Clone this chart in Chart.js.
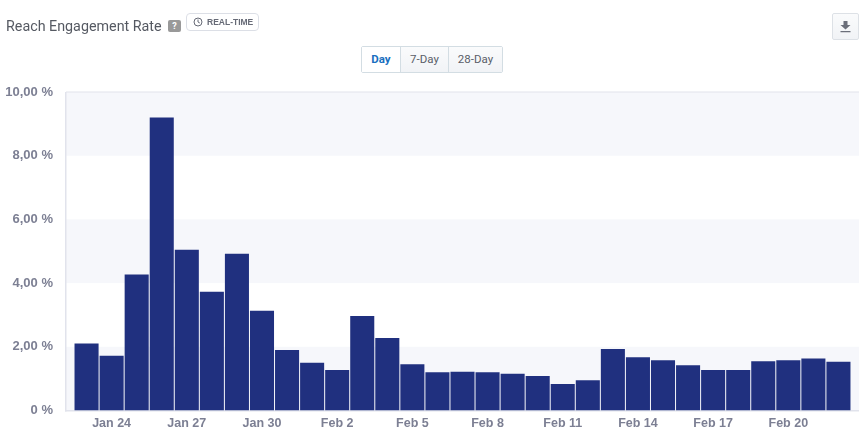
<!DOCTYPE html>
<html lang="en">
<head>
  <meta charset="UTF-8">
  <title>Reach Engagement Rate</title>
  <script src="https://cdn.jsdelivr.net/npm/chart.js"></script>
  <style>
    body { margin: 0; background: #fff; font-family: Roboto, Arial, sans-serif; }
    #wrap { position: relative; width: 864px; height: 433px; overflow: hidden; }
    canvas { position: absolute; left: 0; top: 0; }
    .title { position: absolute; left: 6px; top: 18px; font-size: 14.3px; color: #555962; }
    .help { position: absolute; left: 168px; top: 20px; width: 13px; height: 12px; background: #999; border-radius: 2px; color: #fff; font-size: 9px; line-height: 12px; text-align: center; font-weight: bold; }
    .realtime { position: absolute; left: 186px; top: 13px; width: 71px; height: 16px; border: 1px solid #dcdfe6; border-radius: 4px; }
    .realtime svg { position: absolute; left: 6px; top: 3px; }
    .realtime span { position: absolute; left: 20px; top: 2px; font: bold 8.5px/12px "Liberation Sans", Arial, sans-serif; color: #666a76; }
    .tabs { position: absolute; left: 361px; top: 46px; height: 25px; display: flex; border: 1px solid #d3dde3; border-radius: 2px; font: 11.5px/25px Roboto, Arial, sans-serif; color: #5a5e68; }
    .tabs div { text-align: center; background: linear-gradient(#fafbfc, #f1f3f6); border-left: 1px solid #d3dde3; }
    .tabs div:first-child { border-left: 0; width: 38px; background: #fff; color: #1a6fc0; font-weight: bold; }
    .tabs div:nth-child(2) { width: 47px; }
    .tabs div:nth-child(3) { width: 53px; }
    .dl { position: absolute; left: 832px; top: 13px; width: 25px; height: 25px; border: 1px solid #dde1e6; border-radius: 2px; background: linear-gradient(#fafbfc, #f1f3f6); }
    .dl svg { position: absolute; left: 7px; top: 7px; }
  </style>
</head>
<body>
  <div id="wrap">
    <canvas id="chart" width="864" height="433"></canvas>
    <div class="title">Reach Engagement Rate</div>
    <div class="help">?</div>
    <div class="realtime">
      <svg width="10" height="10" viewBox="0 0 10 10"><circle cx="5" cy="5" r="4" fill="none" stroke="#666a76" stroke-width="1"/><path d="M5 2.5V5L6.8 6" fill="none" stroke="#666a76" stroke-width="1"/></svg>
      <span>REAL-TIME</span>
    </div>
    <div class="tabs"><div>Day</div><div>7-Day</div><div>28-Day</div></div>
    <div class="dl">
      <svg width="11" height="12" viewBox="0 0 11 12"><path d="M3.5 0H7.5V4H10.5L5.5 8.5L0.5 4H3.5Z M0.5 10H10.5V11.3H0.5Z" fill="#6b6f7a"/></svg>
    </div>
  </div>

  <script>
    const days = ['Jan 23', 'Jan 24', 'Jan 25', 'Jan 26', 'Jan 27', 'Jan 28', 'Jan 29', 'Jan 30', 'Jan 31',
      'Feb 1', 'Feb 2', 'Feb 3', 'Feb 4', 'Feb 5', 'Feb 6', 'Feb 7', 'Feb 8', 'Feb 9', 'Feb 10', 'Feb 11',
      'Feb 12', 'Feb 13', 'Feb 14', 'Feb 15', 'Feb 16', 'Feb 17', 'Feb 18', 'Feb 19', 'Feb 20', 'Feb 21', 'Feb 22'];
    const rates = [2.1, 1.72, 4.27, 9.2, 5.05, 3.73, 4.92, 3.13, 1.9, 1.5, 1.27, 2.97, 2.28, 1.45, 1.2, 1.22,
      1.2, 1.15, 1.08, 0.83, 0.95, 1.93, 1.67, 1.58, 1.42, 1.27, 1.27, 1.55, 1.58, 1.63, 1.53];
    const labelled = [1, 4, 7, 10, 13, 16, 19, 22, 25, 28];
    const yTicks = [0, 2, 4, 6, 8, 10];

    // alternating bands and plot border
    const bands = {
      id: 'bands',
      beforeDatasetsDraw(chart) {
        const { ctx, chartArea: a, scales: { y } } = chart;
        ctx.save();
        ctx.fillStyle = '#f6f7fb';
        for (let v = 0; v < 10; v += 4) {
          ctx.fillRect(a.left, y.getPixelForValue(v + 2), a.width, y.getPixelForValue(v) - y.getPixelForValue(v + 2));
        }
        ctx.fillStyle = '#e1e3ec';
        ctx.fillRect(a.left - 1, a.top, 1.5, a.height + 1);
        ctx.fillRect(a.left - 1, a.bottom - 0.5, a.width + 1, 1.5);
        ctx.fillRect(a.left, a.top - 0.5, a.width, 1);
        ctx.restore();
      }
    };

    new Chart(document.getElementById('chart'), {
      type: 'bar',
      data: {
        datasets: [{
          data: rates.map((v, i) => ({ x: i, y: v })),
          backgroundColor: '#20307f',
          categoryPercentage: 1,
          barPercentage: 0.96
        }]
      },
      options: {
        responsive: false,
        animation: false,
        layout: { padding: { top: 92, right: 5, left: 0, bottom: 0 } },
        plugins: { legend: { display: false }, tooltip: { enabled: false } },
        scales: {
          x: {
            type: 'linear',
            offset: false,
            min: -0.82,
            max: 30.82,
            grid: { display: false },
            border: { display: false },
            afterBuildTicks(axis) { axis.ticks = labelled.map(v => ({ value: v })); },
            afterFit(axis) { axis.height = 22.5; },
            ticks: {
              autoSkip: false,
              maxRotation: 0,
              padding: -2,
              color: '#7c7f93',
              font: { family: 'Liberation Sans', size: 12.5, weight: 'bold' },
              callback: v => days[v]
            }
          },
          y: {
            min: 0,
            max: 10,
            grid: { display: false },
            border: { display: false },
            afterBuildTicks(axis) { axis.ticks = yTicks.map(v => ({ value: v })); },
            afterFit(axis) { axis.width = 66; },
            ticks: {
              padding: 5,
              color: '#7c7f93',
              font: { family: 'Liberation Sans', size: 13, weight: 'bold' },
              callback: v => v === 0 ? '0 %' : v.toFixed(2).replace('.', ',') + ' %'
            }
          }
        }
      },
      plugins: [bands]
    });
  </script>
</body>
</html>
